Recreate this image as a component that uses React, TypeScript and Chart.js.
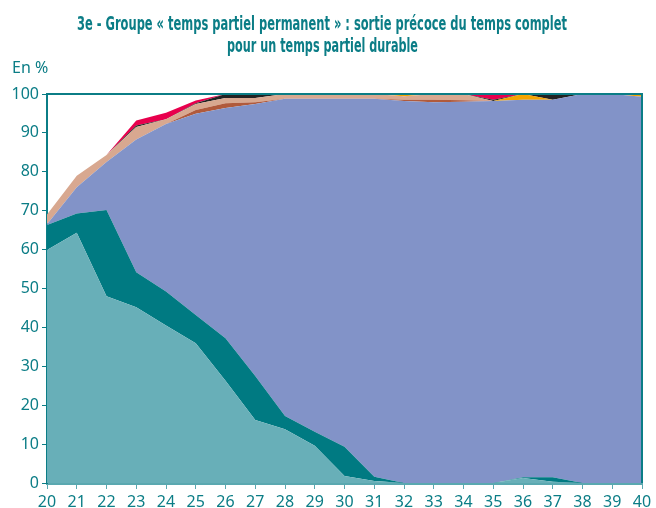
import React, { useEffect, useRef } from "react";
import { Chart, registerables } from "chart.js";

Chart.register(...registerables);

const ages = ["20","21","22","23","24","25","26","27","28","29","30","31","32","33","34","35","36","37","38","39","40"];
const yTicks = [0, 10, 20, 30, 40, 50, 60, 70, 80, 90, 100];

const lightTeal = [59.9, 64.3, 48, 45.2, 40.5, 35.9, 26.3, 16.2, 13.8, 9.6, 1.8, 0.5, 0, 0, 0, 0, 1.3, 0.3, 0, 0, 0];
const darkTeal = [6.4, 5, 22.2, 9, 8.7, 7.3, 10.9, 11.3, 3.4, 3.6, 7.5, 1.1, 0, 0, 0, 0, 0.2, 1.2, 0, 0, 0];
const periwinkle = [0.2, 6.7, 12.3, 34.1, 43.1, 51.7, 59.2, 69.9, 81.6, 85.6, 89.5, 97.2, 98.2, 97.9, 98, 98.2, 97, 97, 100, 100, 99.3];
const brown = [0, 0, 0, 0, 0, 1, 1.2, 0.5, 0, 0, 0, 0, 0.3, 0.6, 0.4, 0, 0, 0, 0, 0, 0];
const salmon = [2.5, 3, 1.8, 3.2, 1.2, 1.5, 1.4, 1.1, 1.2, 1.2, 1.2, 1.2, 0.9, 1.5, 1.6, 0, 0, 0, 0, 0, 0];
const orange = [0, 0, 0, 0, 0, 0, 0, 0, 0, 0, 0, 0, 0.6, 0, 0, 0, 1.5, 0, 0, 0, 0.7];
const black = [0, 0, 0, 0.4, 0, 0.2, 1, 1, 0, 0, 0, 0, 0, 0, 0, 0.3, 0, 1.5, 0, 0, 0];
const crimson = [0, 0, 0, 1.3, 1.7, 0.7, 0, 0, 0, 0, 0, 0, 0, 0, 0, 1.5, 0, 0, 0, 0, 0];

const titleLines = [
  "3e - Groupe « temps partiel permanent » : sortie précoce du temps complet",
  "pour un temps partiel durable",
];
const unitLabel = "En %";

const TEAL = "#0b7d86";

export default function App() {
  const ref = useRef<HTMLCanvasElement | null>(null);
  useEffect(() => {
    if (!ref.current) return;
    const series = [
      { d: lightTeal, c: "#68afb8" },
      { d: darkTeal, c: "#007a82" },
      { d: periwinkle, c: "#8293c8" },
      { d: brown, c: "#b05a3c" },
      { d: salmon, c: "#d8a890" },
      { d: orange, c: "#f5a500" },
      { d: black, c: "#222222" },
      { d: crimson, c: "#e8004d" },
    ];
    const decor = {
      id: "decor",
      afterDraw(chart: any) {
        const ctx = chart.ctx;
        const a = chart.chartArea;
        ctx.save();
        ctx.strokeStyle = TEAL;
        ctx.lineWidth = 2;
        ctx.beginPath();
        ctx.moveTo(a.left, a.top);
        ctx.lineTo(a.right, a.top);
        ctx.lineTo(a.right, a.bottom);
        ctx.stroke();
        ctx.fillStyle = TEAL;
        ctx.textBaseline = "alphabetic";
        ctx.textAlign = "left";
        ctx.font = "16px 'Noto Sans'";
        ctx.fillText(unitLabel, 12, 73);
        ctx.font = "bold 19px 'DejaVu Sans Condensed'";
        ctx.textAlign = "center";
        const targets = [{ w: 490, x: 322, y: 29.5 }, { w: 191, x: 322.5, y: 52 }];
        titleLines.forEach((t, i) => {
          const m = ctx.measureText(t).width;
          const sx = targets[i].w / m;
          ctx.save();
          ctx.translate(targets[i].x, targets[i].y);
          ctx.scale(sx, 1);
          ctx.fillText(t, 0, 0);
          ctx.restore();
        });
        ctx.restore();
      },
    };
    const chart = new Chart(ref.current, {
      type: "line",
      data: {
        labels: ages,
        datasets: series.map((s, i) => ({
          data: s.d,
          backgroundColor: s.c,
          borderColor: s.c,
          borderWidth: 0,
          pointRadius: 0,
          fill: i === 0 ? "origin" : "-1",
          tension: 0,
        })),
      },
      options: {
        animation: false,
        responsive: false,
        layout: { padding: { left: 0, right: 14, top: 94, bottom: 0 } },
        plugins: { legend: { display: false }, tooltip: { enabled: false }, title: { display: false } },
        scales: {
          x: {
            type: "category",
            offset: false,
            afterFit: (s: any) => { s.height = 25; },
            grid: { drawOnChartArea: false, drawTicks: true, tickLength: 6, color: "#5aa8b0", lineWidth: 1 },
            border: { color: "#5aa8b0", width: 3 },
            ticks: { color: TEAL, font: { family: "Noto Sans", size: 16 }, padding: 4, maxRotation: 0, autoSkip: false },
          },
          y: {
            stacked: true,
            min: 0,
            max: 100,
            afterFit: (s: any) => { s.width = 47; },
            afterBuildTicks: (s: any) => { s.ticks = yTicks.map((v) => ({ value: v })); },
            grid: { drawOnChartArea: false, drawTicks: true, tickLength: 5, color: TEAL, lineWidth: 1 },
            border: { color: TEAL, width: 2 },
            ticks: { color: TEAL, font: { family: "Noto Sans", size: 16 }, padding: 3 },
          },
        },
      },
      plugins: [decor],
    });
    return () => chart.destroy();
  }, []);
  return (
    <canvas ref={ref} width={656} height={508} style={{ position: "absolute", left: 0, top: 0 }} />
  );
}
